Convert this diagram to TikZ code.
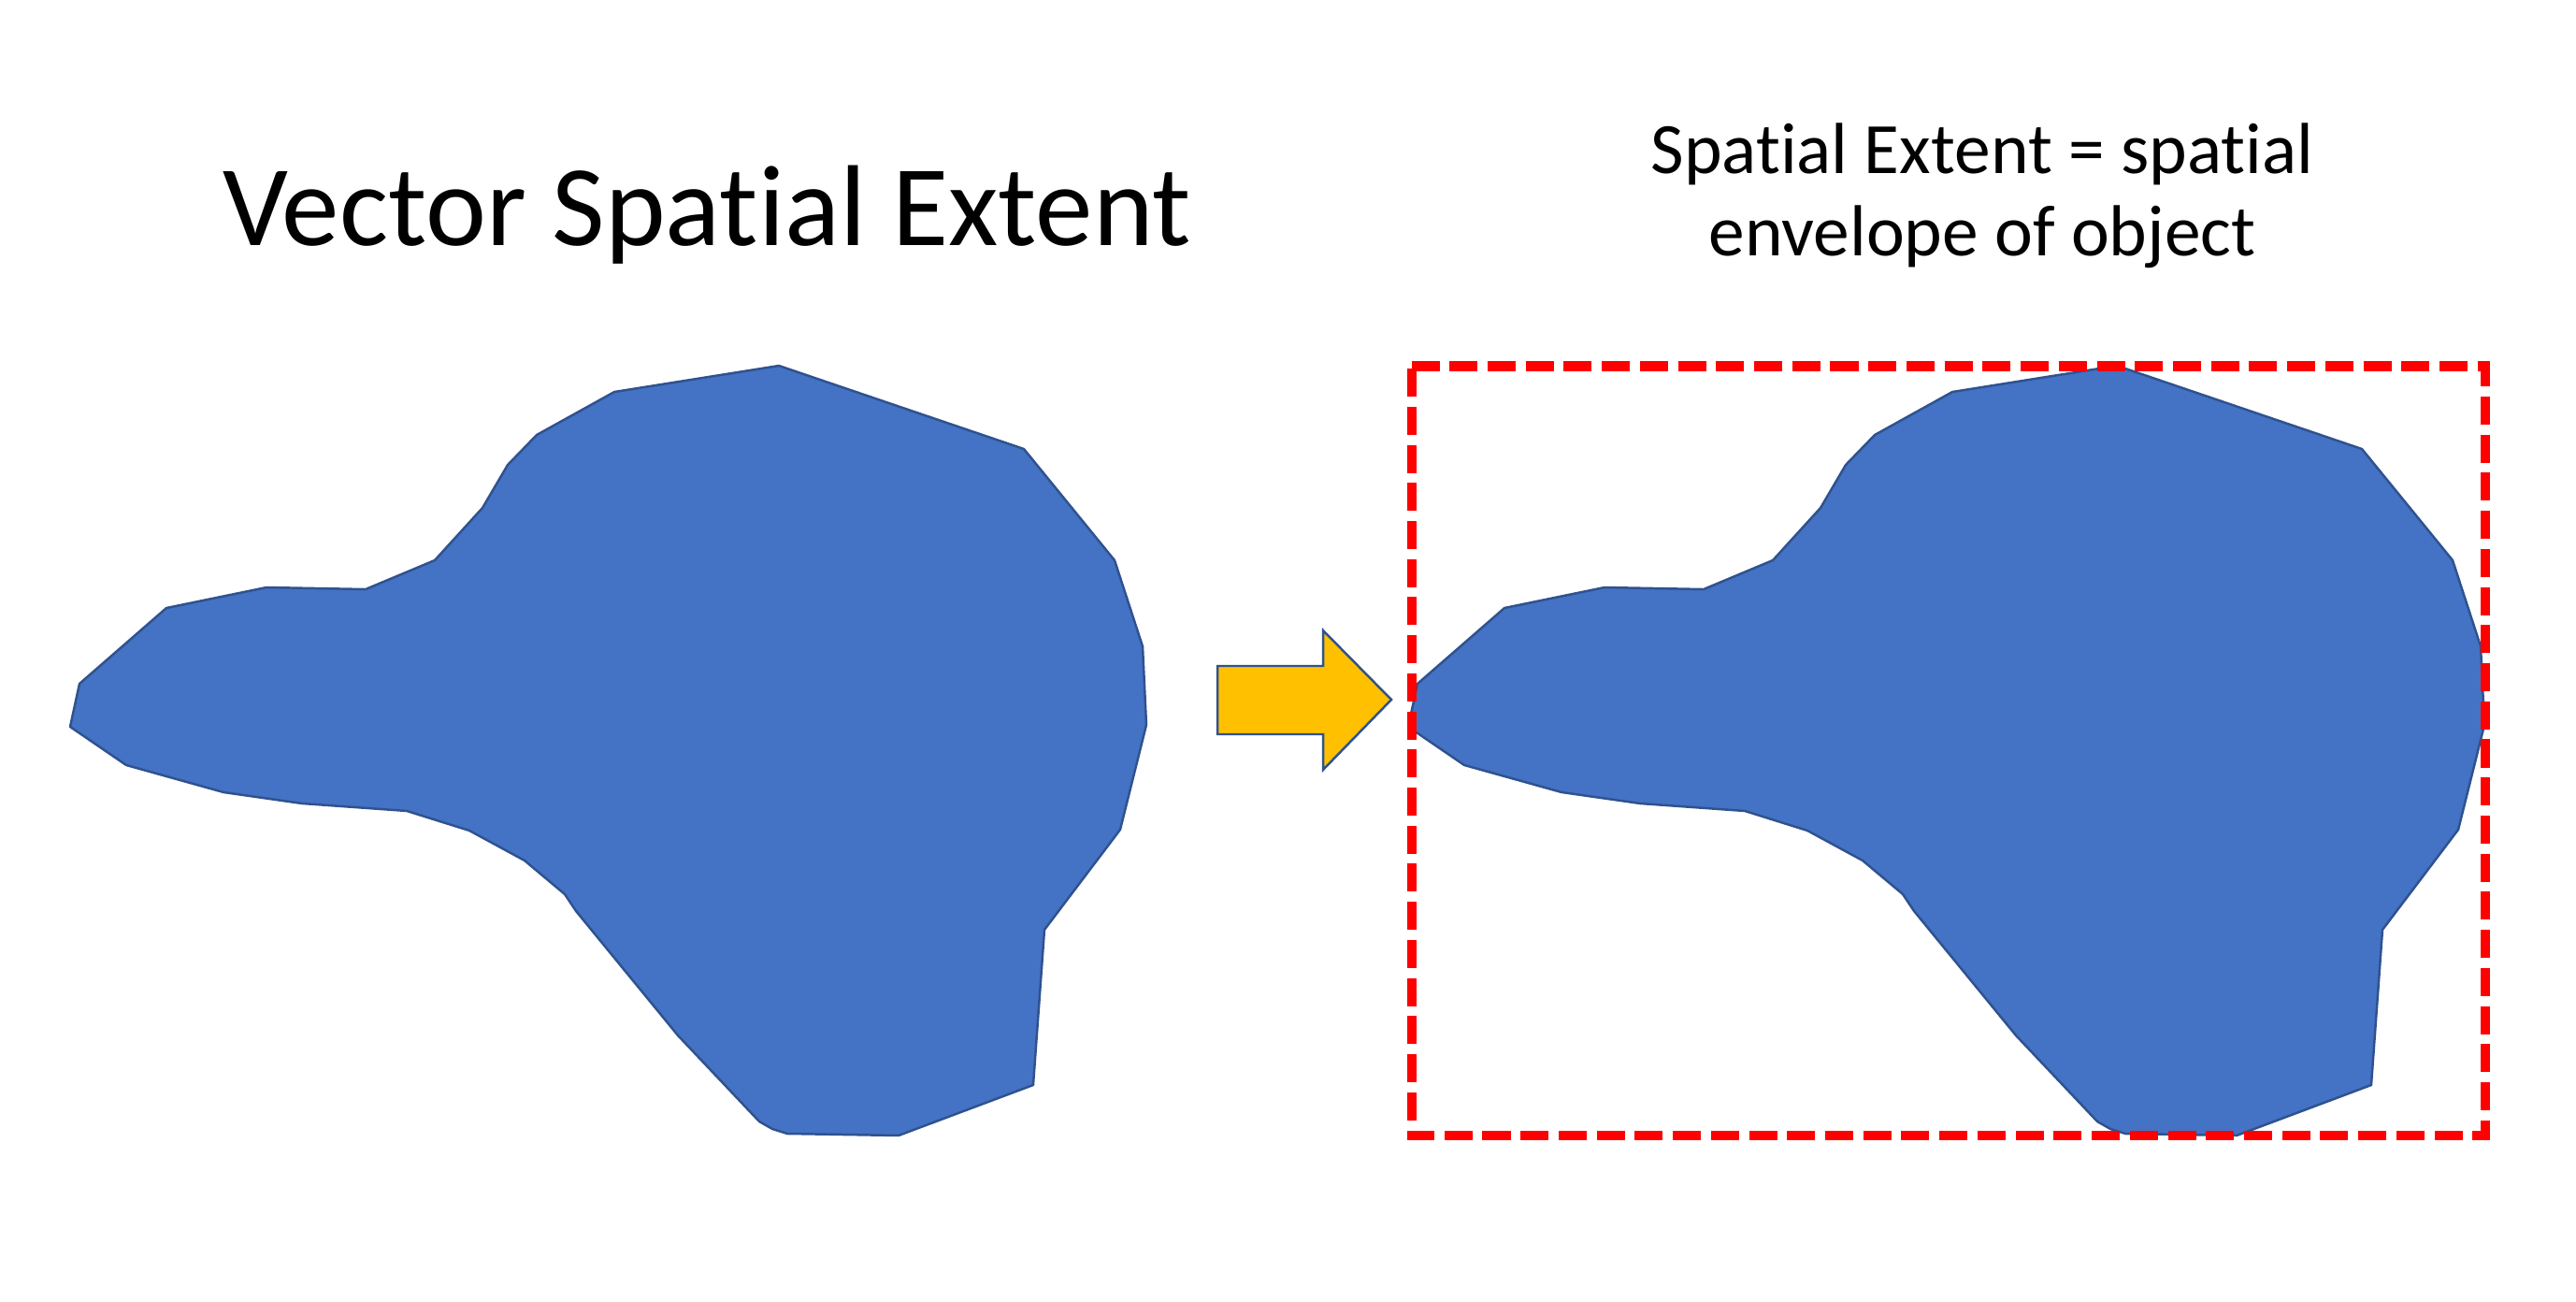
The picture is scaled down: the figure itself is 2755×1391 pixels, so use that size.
\documentclass[tikz,border=0pt]{standalone}
\usepackage{fontspec}
\setmainfont{Carlito}[RawFeature={-liga;-clig;-dlig}]
\usepackage[dvipsnames]{xcolor}
\definecolor{ShapeBlue}{HTML}{4472C4}
\definecolor{EdgeBlue}{HTML}{2F528F}
\definecolor{ArrowGold}{HTML}{FFC000}
\definecolor{EnvRed}{HTML}{FF0000}
\usepackage{tikz}
\usetikzlibrary{positioning, calc}
\tikzset{
  % Text styles
  titletext/.style={font=\fontsize{35}{42}\selectfont, anchor=base, inner sep=0pt},
  notetext/.style={font=\fontsize{22}{24.75}\selectfont, align=center, anchor=base, inner sep=0pt},
  % Shape styles
  blobfill/.style={draw=EdgeBlue, fill=ShapeBlue, line width=0.7pt, line join=round},
  blockarrow/.style={draw=EdgeBlue, fill=ArrowGold, line width=0.7pt},
  envbox/.style={draw=EnvRed, line width=2.85pt, dash pattern=on 0.30cm off 0.107cm},
  % Polygon of the object
  blobshape/.pic={
    \draw[blobfill] (833,391) -- (657,419) -- (574,465) -- (543,497) -- (516,543) -- (465,599)
      -- (391,630) -- (285,628) -- (178,650) -- (85,731) -- (75,777) -- (135,818) -- (239,847)
      -- (323,859) -- (435,867) -- (502,888) -- (561,920) -- (604,956) -- (616,974) -- (725,1107)
      -- (812,1199) -- (826,1207) -- (842,1212) -- (961,1214) -- (1105,1160) -- (1117,994)
      -- (1198,887) -- (1226,775) -- (1222,691) -- (1192,599) -- (1095,480) -- cycle;
  }
}
\begin{document}
\begin{tikzpicture}[x=0.01cm, y=-0.01cm]
  \useasboundingbox (0,0) rectangle (2755,1391);

  % Titles
  \node[titletext] (ttl) at (756,262) {Vector Spatial Extent};
  \node[notetext] (note) at (2120,273) {Spatial Extent = spatial\\envelope of object};

  % Objects
  \pic (objL) at (0,0) {blobshape};
  \pic (objR) at (1431,0) {blobshape};

  % Arrow between them
  \draw[blockarrow] (1302,712) -- (1415,712) -- (1415,674) -- (1488,748) -- (1415,823)
    -- (1415,785) -- (1302,785) -- cycle;

  % Envelope
  \coordinate (tl) at (1509.5,391.5);
  \coordinate (br) at (2658,1214);
  \draw[envbox] (tl) -- (tl -| br) -- (br) -- (br -| tl) -- cycle;
\end{tikzpicture}
\end{document}
